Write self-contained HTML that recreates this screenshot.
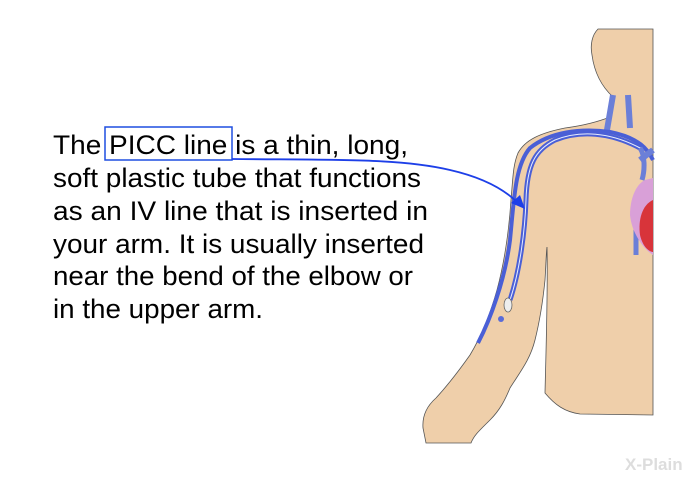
<!DOCTYPE html>
<html><head><style>html,body{margin:0;padding:0;background:#fff;}</style></head>
<body>
<svg width="700" height="480" viewBox="0 0 700 480" xmlns="http://www.w3.org/2000/svg">
<!-- body -->
<path d="M598,29 C592,35 590,45 592,55 C594,70 600,85 613,97 L610,117 C595,123 580,126 565,128 C540,133 525,140 518,153 C513,165 513,177 511,200 C509,230 505,260 497,290 C490,315 482,335 470,355 C458,372 447,386 436,398 C428,405 422,415 423,428 L426,443 L471,443 C474,435 480,430 490,420 C500,410 505,400 510,388 C520,372 530,360 535,340 C540,320 543,300 545,280 C546,265 546,255 547,247 C548,290 546,350 545,393 C555,405 565,412 580,414 L653,415 L653,29 Z" fill="#efcfaa" stroke="#555" stroke-width="0.8"/>
<path d="M613,95 L607,130 M628,95 L630,128" stroke="#6b7fd8" stroke-width="6" fill="none"/>
<path d="M478,343 C490,320 505,280 510,240 C514,200 515,165 530,148 C550,132 580,128 610,132 C640,138 648,150 653,160" stroke="#4a5fd6" stroke-width="4" fill="none"/>
<path d="M510,300 C520,270 525,230 526,200 C527,165 535,150 555,140 C580,130 610,132 640,148" stroke="#4a5fd6" stroke-width="5" fill="none"/>
<path d="M510,300 C520,270 525,230 526,200 C527,165 535,150 555,140 C580,130 610,132 640,148" stroke="#e6ecff" stroke-width="1" fill="none"/>
<path d="M640,148 C645,155 645,170 642,180 M636,195 L636,255" stroke="#6b7fd8" stroke-width="5" fill="none"/>
<path d="M653,150 L640,160" stroke="#6b7fd8" stroke-width="6" fill="none"/>
<path d="M645,180 C635,185 630,200 630,215 C632,235 645,250 653,255 L653,178 Z" fill="#d9a0d8"/>
<path d="M653,200 C642,205 638,220 640,235 C643,248 650,252 653,252 Z" fill="#d8343a"/>
<ellipse cx="508" cy="305" rx="4" ry="7" fill="#eee" stroke="#666" stroke-width="0.8"/>
<circle cx="501" cy="319" r="3" fill="#5a6cd8"/>
<g font-family="Liberation Sans, sans-serif" font-size="27" fill="#000" lengthAdjust="spacingAndGlyphs">
<text x="53" y="154" textLength="355" lengthAdjust="spacingAndGlyphs">The PICC line is a thin, long,</text>
<text x="53" y="187" textLength="368" lengthAdjust="spacingAndGlyphs">soft plastic tube that functions</text>
<text x="53" y="220" textLength="375" lengthAdjust="spacingAndGlyphs">as an IV line that is inserted in</text>
<text x="53" y="253" textLength="371" lengthAdjust="spacingAndGlyphs">your arm. It is usually inserted</text>
<text x="53" y="285" textLength="360" lengthAdjust="spacingAndGlyphs">near the bend of the elbow or</text>
<text x="53" y="318" textLength="210" lengthAdjust="spacingAndGlyphs">in the upper arm.</text>
</g>
<rect x="105" y="127" width="127" height="33" fill="none" stroke="#1f4fe0" stroke-width="1.5"/>
<path d="M232,159 C330,160 400,158 450,170 C485,178 505,190 518,203" stroke="#1d3fe8" stroke-width="1.8" fill="none"/>
<path d="M525,209 L511,203 L520,195 Z" fill="#1d3fe8"/>
<text x="625" y="470" font-family="Liberation Sans, sans-serif" font-size="17" font-weight="bold" fill="#ddd">X-Plain</text>
</svg>
</body></html>
